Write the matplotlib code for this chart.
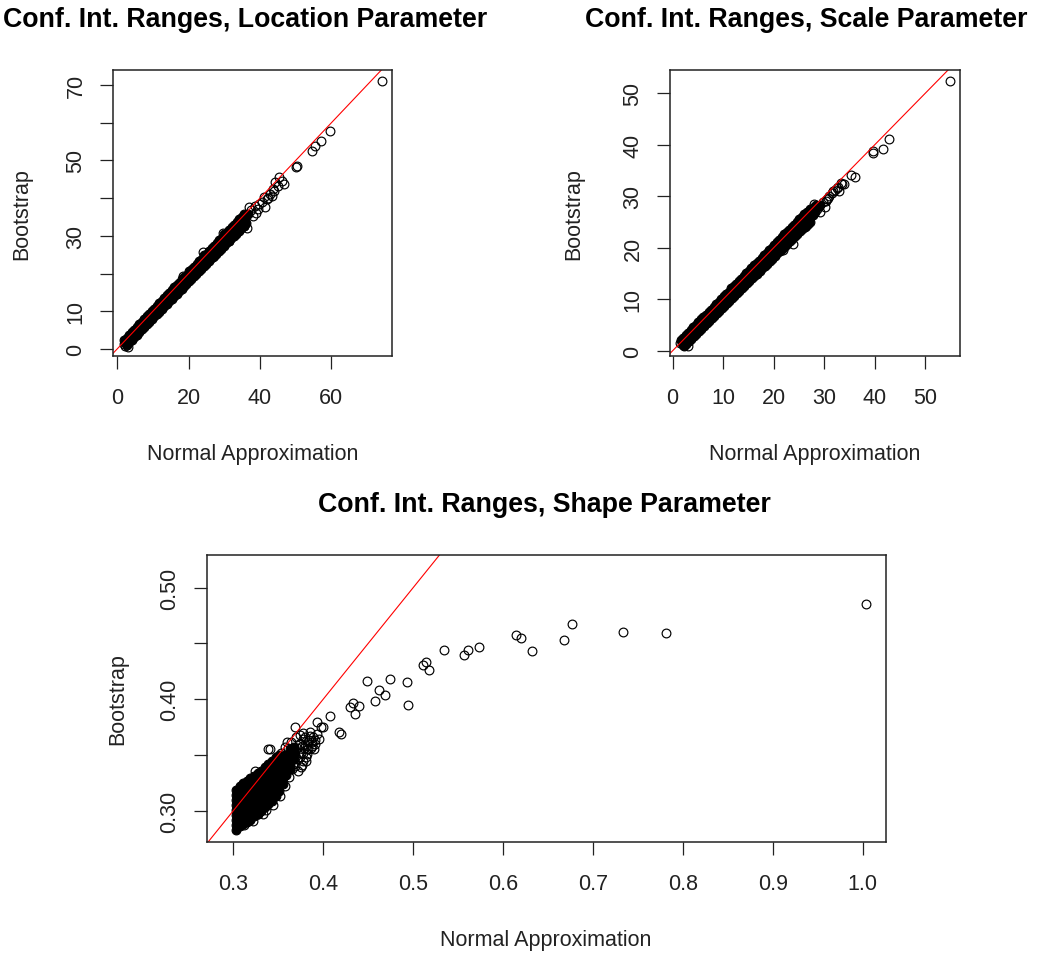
import matplotlib
matplotlib.use("Agg")
import matplotlib.pyplot as plt

# ---------------- data ----------------
# Location parameter: Normal approximation (x) vs Bootstrap (y)
# dense band (thousands of overlapping circles -> drawn solid)
loc_band_x = [2.0, 2.7, 3.4, 4.1, 4.8, 5.5, 6.2, 6.9, 7.6, 8.3, 9.0, 9.7, 10.4, 11.1, 11.8, 12.5, 13.2, 13.9, 14.6, 15.3,
              16.0, 16.7, 17.4, 18.1, 18.8, 19.5, 20.2, 20.9, 21.6, 22.3, 23.0, 23.7, 24.4, 25.1, 25.8, 26.5, 27.2, 27.9, 28.6, 29.3,
              30.0, 30.7, 31.4, 32.1, 32.8, 33.5, 34.2, 34.9, 35.6,
              2.3, 3.0, 3.7, 4.4, 5.1, 5.8, 6.5, 7.2, 7.9, 8.6, 9.3, 10.0, 10.7, 11.4, 12.1, 12.8, 13.5, 14.2, 14.9, 15.6,
              16.3, 17.0, 17.7, 18.4, 19.1, 19.8, 20.5, 21.2, 21.9, 22.6, 23.3, 24.0, 24.7, 25.4, 26.1, 26.8, 27.5, 28.2, 28.9, 29.6,
              30.3, 31.0, 31.7, 32.4, 33.1, 33.8, 34.5, 35.2, 35.9, 36.6,
              2.6, 3.3, 4.0, 4.7, 5.4, 6.1, 6.8, 7.5, 8.2, 8.9, 9.6, 10.3, 11.0, 11.7, 12.4, 13.1, 13.8, 14.5, 15.2, 15.9,
              16.6, 17.3, 18.0, 18.7, 19.4, 20.1, 20.8, 21.5, 22.2, 22.9, 23.6, 24.3, 25.0, 25.7, 26.4, 27.1, 27.8, 28.5, 29.2, 29.9,
              30.6, 31.3, 32.0, 32.7, 33.4, 34.1, 34.8, 35.5, 36.2]
loc_band_y = [2.4, 3.0, 3.8, 4.4, 5.1, 5.9, 6.5, 7.2, 8.0, 8.6, 9.3, 10.1, 10.7, 11.3, 12.2, 12.8, 13.4, 14.3, 14.8, 15.5,
              16.4, 16.9, 17.6, 18.5, 19.0, 19.7, 20.6, 21.1, 21.8, 22.6, 23.2, 23.8, 24.8, 25.2, 26.0, 26.8, 27.3, 28.1, 28.9, 29.4,
              30.4, 30.8, 31.6, 32.4, 32.9, 33.7, 34.4, 35.0, 35.8,
              1.5, 2.2, 2.9, 3.6, 4.4, 5.0, 5.7, 6.4, 7.1, 7.8, 8.5, 9.2, 9.9, 10.6, 11.3, 12.0, 12.7, 13.4, 14.1, 14.8,
              15.5, 16.2, 16.9, 17.6, 18.2, 19.0, 19.6, 20.4, 21.0, 21.8, 22.4, 23.2, 23.8, 24.6, 25.2, 26.0, 26.6, 27.4, 28.0, 28.8,
              29.4, 30.2, 30.8, 31.6, 32.2, 33.0, 33.6, 34.4, 35.0, 35.9,
              0.9, 1.7, 2.4, 3.1, 3.8, 4.5, 5.2, 5.9, 6.5, 7.2, 7.9, 8.6, 9.2, 9.9, 10.6, 11.3, 11.9, 12.6, 13.3, 14.0,
              14.6, 15.3, 16.0, 16.6, 17.3, 18.0, 18.6, 19.3, 20.0, 20.6, 21.3, 22.0, 22.6, 23.3, 24.0, 24.6, 25.3, 26.0, 26.6, 27.3,
              28.0, 28.6, 29.4, 30.0, 30.6, 31.4, 32.0, 32.6, 33.4]
# separate circles
loc_out_x = [1.8, 2.2, 3.0, 35.5, 36.3, 37.0, 37.5, 38.1, 38.5, 38.8, 39.5, 39.8, 40.5, 41.0, 41.4, 41.9, 42.3, 42.8,
             43.3, 43.7, 44.0, 44.3, 45.0, 45.4, 46.1, 46.7, 24.1, 29.5, 50.1, 50.3, 54.7, 55.3, 57.1, 59.6, 74.1,
             26.9, 31.2, 33.6, 18.3, 34.8]
loc_out_y = [1.2, 0.7, 0.6, 32.5, 32.0, 37.6, 36.8, 35.3, 37.8, 36.0, 37.2, 38.5, 38.9, 40.2, 37.6, 39.8, 40.0, 41.1,
             40.6, 42.4, 41.8, 44.4, 43.2, 45.7, 44.6, 43.8, 25.6, 30.7, 48.2, 48.6, 52.6, 53.9, 55.3, 57.9, 71.2,
             24.3, 28.6, 31.4, 19.4, 32.2]

# Scale parameter
scl_band_x = [1.6, 2.1, 2.6, 3.1, 3.6, 4.1, 4.6, 5.1, 5.6, 6.1, 6.6, 7.1, 7.6, 8.1, 8.6, 9.1, 9.6, 10.1, 10.6, 11.1,
              11.6, 12.1, 12.6, 13.1, 13.6, 14.1, 14.6, 15.1, 15.6, 16.1, 16.6, 17.1, 17.6, 18.1, 18.6, 19.1, 19.6, 20.1, 20.6, 21.1,
              21.6, 22.1, 22.6, 23.1, 23.6, 24.1, 24.6, 25.1, 25.6, 26.1, 26.6, 27.1,
              1.9, 2.4, 2.9, 3.4, 3.9, 4.4, 4.9, 5.4, 5.9, 6.4, 6.9, 7.4, 7.9, 8.4, 8.9, 9.4, 9.9, 10.4, 10.9, 11.4,
              11.9, 12.4, 12.9, 13.4, 13.9, 14.4, 14.9, 15.4, 15.9, 16.4, 16.9, 17.4, 17.9, 18.4, 18.9, 19.4, 19.9, 20.4, 20.9, 21.4,
              21.9, 22.4, 22.9, 23.4, 23.9, 24.4, 24.9, 25.4, 25.9, 26.4, 26.9, 27.4,
              2.2, 2.7, 3.2, 3.7, 4.2, 4.7, 5.2, 5.7, 6.2, 6.7, 7.2, 7.7, 8.2, 8.7, 9.2, 9.7, 10.2, 10.7, 11.2, 11.7,
              12.2, 12.7, 13.2, 13.7, 14.2, 14.7, 15.2, 15.7, 16.2, 16.7, 17.2, 17.7, 18.2, 18.7, 19.2, 19.7, 20.2, 20.7, 21.2, 21.7,
              22.2, 22.7, 23.2, 23.7, 24.2, 24.7, 25.2, 25.7, 26.2, 26.7, 27.2,
              27.6, 28.1, 28.6, 29.1, 27.9, 28.4, 27.7, 28.2]
scl_band_y = [2.0, 2.5, 3.1, 3.5, 4.0, 4.6, 5.0, 5.5, 6.1, 6.5, 7.0, 7.6, 8.0, 8.5, 9.1, 9.5, 10.0, 10.6, 11.0, 11.5,
              12.1, 12.5, 13.0, 13.6, 14.0, 14.5, 15.1, 15.5, 16.0, 16.6, 17.0, 17.5, 18.1, 18.5, 19.0, 19.6, 20.0, 20.5, 21.1, 21.5,
              22.0, 22.6, 23.0, 23.5, 24.1, 24.5, 25.0, 25.5, 26.0, 26.5, 27.0, 27.6,
              1.4, 1.9, 2.4, 2.9, 3.4, 3.9, 4.4, 4.9, 5.4, 5.9, 6.4, 6.9, 7.4, 7.9, 8.4, 8.9, 9.4, 9.9, 10.4, 10.9,
              11.4, 11.9, 12.4, 12.9, 13.4, 13.9, 14.4, 14.9, 15.4, 15.9, 16.4, 16.9, 17.4, 17.9, 18.4, 18.9, 19.4, 19.9, 20.4, 20.9,
              21.4, 21.9, 22.4, 22.9, 23.4, 23.9, 24.4, 24.9, 25.4, 25.9, 26.4, 26.9,
              0.9, 1.3, 1.8, 2.3, 2.8, 3.3, 3.8, 4.3, 4.8, 5.3, 5.8, 6.3, 6.8, 7.3, 7.8, 8.3, 8.7, 9.2, 9.7, 10.2,
              10.7, 11.2, 11.6, 12.1, 12.6, 13.1, 13.6, 14.1, 14.5, 15.0, 15.5, 16.0, 16.5, 16.9, 17.4, 17.9, 18.4, 18.9, 19.3, 19.8,
              20.3, 20.8, 21.3, 21.7, 22.2, 22.7, 23.2, 23.7, 24.1, 24.6, 25.1,
              27.0, 27.5, 27.9, 28.3, 28.0, 28.4, 26.4, 26.9]
scl_out_x = [3.1, 23.9, 27.2, 27.9, 28.5, 29.0, 29.2, 30.2, 30.5, 31.8, 32.5, 33.0, 33.5, 35.4, 36.1,
             39.6, 39.7, 41.7, 42.9, 54.9, 1.5, 2.0, 21.8, 25.6, 26.4,
             29.8, 30.4, 31.0, 31.5, 32.2, 32.8, 33.3, 34.0, 30.8]
scl_out_y = [1.0, 20.7, 25.9, 28.5, 27.5, 28.2, 26.9, 27.9, 29.5, 31.0, 31.7, 31.0, 32.4, 34.1, 33.7,
             38.8, 38.5, 39.2, 41.1, 52.4, 1.5, 1.1, 19.6, 25.8, 24.2,
             28.8, 29.0, 30.1, 30.6, 31.2, 31.9, 32.5, 32.4, 29.6]

# Shape parameter: dense cluster given column by column
shp_col_x = [0.303, 0.307, 0.311, 0.315, 0.319, 0.323, 0.327, 0.331, 0.335, 0.339, 0.343, 0.347, 0.351, 0.355,
             0.359, 0.363, 0.367]
shp_col_y = [
    [0.283, 0.287, 0.292, 0.296, 0.301, 0.305, 0.310, 0.314, 0.319],
    [0.286, 0.291, 0.296, 0.300, 0.305, 0.309, 0.314, 0.318, 0.322],
    [0.288, 0.293, 0.297, 0.302, 0.306, 0.311, 0.315, 0.320, 0.325],
    [0.290, 0.295, 0.299, 0.304, 0.308, 0.313, 0.317, 0.322, 0.327],
    [0.292, 0.297, 0.301, 0.306, 0.310, 0.315, 0.319, 0.324, 0.329],
    [0.295, 0.299, 0.304, 0.308, 0.313, 0.317, 0.322, 0.326, 0.331],
    [0.297, 0.302, 0.306, 0.311, 0.315, 0.320, 0.324, 0.329, 0.334],
    [0.300, 0.304, 0.309, 0.313, 0.318, 0.322, 0.327, 0.332, 0.336],
    [0.303, 0.307, 0.312, 0.316, 0.321, 0.325, 0.330, 0.334, 0.339],
    [0.306, 0.310, 0.315, 0.319, 0.324, 0.328, 0.333, 0.337, 0.342],
    [0.309, 0.313, 0.318, 0.322, 0.327, 0.331, 0.336, 0.340, 0.345],
    [0.313, 0.317, 0.322, 0.326, 0.331, 0.335, 0.340, 0.344, 0.348],
    [0.318, 0.323, 0.327, 0.332, 0.336, 0.341, 0.345, 0.350],
    [0.324, 0.329, 0.334, 0.339, 0.344, 0.349],
    [0.332, 0.338, 0.344, 0.350],
    [0.338, 0.344, 0.350, 0.355],
    [0.346, 0.352, 0.357],
]
shp_out_x = [0.363, 0.366, 0.368, 0.371, 0.373, 0.375, 0.377, 0.379, 0.381, 0.383, 0.385, 0.387, 0.389, 0.391,
             0.393, 0.395, 0.365, 0.369, 0.372, 0.376, 0.361, 0.364, 0.370, 0.378,
             0.348, 0.328, 0.326, 0.363, 0.378, 0.375, 0.382, 0.390, 0.339, 0.369, 0.324, 0.341,
             0.381, 0.383, 0.391, 0.393, 0.397, 0.400, 0.408, 0.418, 0.420, 0.430, 0.433, 0.435, 0.440,
             0.449, 0.458, 0.4625, 0.469, 0.474, 0.493, 0.494, 0.511, 0.514, 0.518, 0.534, 0.557, 0.561,
             0.573, 0.614, 0.620, 0.632, 0.668, 0.677, 0.733, 0.781, 1.004,
             0.356, 0.358, 0.360, 0.362, 0.364, 0.366, 0.367, 0.369, 0.371, 0.374, 0.376, 0.378, 0.380,
             0.382, 0.384, 0.386, 0.388, 0.374, 0.380, 0.385, 0.356, 0.353, 0.357, 0.360, 0.362,
             0.312, 0.322, 0.333, 0.344, 0.352, 0.358, 0.336]
shp_out_y = [0.343, 0.350, 0.356, 0.346, 0.360, 0.352, 0.364, 0.356, 0.348, 0.362, 0.367, 0.358, 0.366, 0.360,
             0.369, 0.364, 0.337, 0.340, 0.336, 0.341, 0.356, 0.362, 0.366, 0.370,
             0.317, 0.297, 0.297, 0.337, 0.345, 0.339, 0.355, 0.355, 0.355, 0.375, 0.336, 0.355,
             0.345, 0.355, 0.363, 0.380, 0.375, 0.375, 0.385, 0.371, 0.369, 0.393, 0.397, 0.387, 0.394,
             0.416, 0.398, 0.408, 0.404, 0.418, 0.415, 0.395, 0.431, 0.433, 0.426, 0.444, 0.440, 0.444,
             0.4465, 0.458, 0.455, 0.443, 0.453, 0.4675, 0.460, 0.459, 0.485,
             0.332, 0.340, 0.346, 0.338, 0.348, 0.342, 0.355, 0.350, 0.356, 0.348, 0.358, 0.352, 0.360,
             0.351, 0.363, 0.356, 0.362, 0.368, 0.366, 0.371, 0.344, 0.352, 0.357, 0.362, 0.330,
             0.287, 0.291, 0.297, 0.305, 0.313, 0.322, 0.301]

# reference line (abline a=0, b=1)
line_intercept = 0.0
line_slope = 1.0

titles = ["Conf. Int. Ranges, Location Parameter",
          "Conf. Int. Ranges, Scale Parameter",
          "Conf. Int. Ranges, Shape Parameter"]
xlabel = "Normal Approximation"
ylabel = "Bootstrap"

# ---------------- figure ----------------
W, H = 1040, 954
plt.rcParams['font.family'] = ['Liberation Sans', 'DejaVu Sans']
fig = plt.figure(figsize=(W / 100, H / 100), dpi=100)

FS = 15.5
TFS = 19.3
INK = '#222222'


def px_axes(l, t, r, b):
    return fig.add_axes([l / W, 1 - b / H, (r - l) / W, (b - t) / H])


def ftext(x, y, s, **kw):
    fig.text(x / W, 1 - y / H, s, **kw)


def draw(ax, dense_x, dense_y, xs, ys, xlim, ylim, xt, xtl, yt, ytl):
    # heavily overplotted region (solid black in the original)
    ax.plot(dense_x, dense_y, linestyle='none', marker='o', markersize=6.3,
            markerfacecolor='black', markeredgecolor='black', markeredgewidth=0.85)
    ax.plot(xs, ys, linestyle='none', marker='o', markersize=6.3,
            markerfacecolor='none', markeredgecolor='black', markeredgewidth=0.85)
    ax.axline((0, line_intercept), slope=line_slope, color='red', linewidth=0.8)
    ax.set_xlim(*xlim)
    ax.set_ylim(*ylim)
    ax.set_xticks(xt)
    ax.set_xticklabels(xtl)
    ax.set_yticks(yt)
    ax.set_yticklabels(ytl, rotation=90, va='center')
    ax.tick_params(axis='both', direction='out', length=9.5, width=0.9, labelsize=FS, colors=INK)
    ax.tick_params(axis='x', pad=13)
    ax.tick_params(axis='y', pad=9.5)
    for s in ax.spines.values():
        s.set_linewidth(1.1)
        s.set_color(INK)


# top-left
ax1 = px_axes(113, 70.7, 392, 357)
draw(ax1, loc_band_x, loc_band_y, loc_out_x, loc_out_y,
     (-1.2, 77.0), (-1.9, 74.1),
     [0, 20, 40, 60], ['0', '20', '40', '60'],
     [0, 10, 20, 30, 40, 50, 60, 70], ['0', '10', '', '30', '', '50', '', '70'])

# top-right
ax2 = px_axes(670, 70.7, 960, 357)
draw(ax2, scl_band_x, scl_band_y, scl_out_x, scl_out_y,
     (-0.53, 56.9), (-1.03, 54.6),
     [0, 10, 20, 30, 40, 50], ['0', '10', '20', '30', '40', '50'],
     [0, 10, 20, 30, 40, 50], ['0', '10', '20', '30', '40', '50'])

# bottom
blob_x = []
blob_y = []
for cx, col in zip(shp_col_x, shp_col_y):
    for cy in col:
        blob_x.append(cx)
        blob_y.append(cy)
ax3 = px_axes(206.7, 555.7, 886, 842.7)
draw(ax3, blob_x, blob_y, shp_out_x, shp_out_y,
     (0.2704, 1.026), (0.2722, 0.5296),
     [0.3, 0.4, 0.5, 0.6, 0.7, 0.8, 0.9, 1.0], ['0.3', '0.4', '0.5', '0.6', '0.7', '0.8', '0.9', '1.0'],
     [0.30, 0.35, 0.40, 0.45, 0.50], ['0.30', '', '0.40', '', '0.50'])

# titles
ftext(245.5, 27, titles[0], ha='center', va='baseline', fontsize=TFS, fontweight='bold')
ftext(806.5, 27, titles[1], ha='center', va='baseline', fontsize=TFS, fontweight='bold')
ftext(544, 512, titles[2], ha='center', va='baseline', fontsize=TFS, fontweight='bold')

# axis labels
ftext(252.5, 460, xlabel, ha='center', va='baseline', fontsize=FS, color=INK)
ftext(815, 460, xlabel, ha='center', va='baseline', fontsize=FS, color=INK)
ftext(546, 946, xlabel, ha='center', va='baseline', fontsize=FS, color=INK)
ftext(22, 214, ylabel, ha='center', va='center', rotation=90, fontsize=FS, color=INK)
ftext(574, 214, ylabel, ha='center', va='center', rotation=90, fontsize=FS, color=INK)
ftext(118, 699, ylabel, ha='center', va='center', rotation=90, fontsize=FS, color=INK)

fig.savefig('out.png', dpi=100)
